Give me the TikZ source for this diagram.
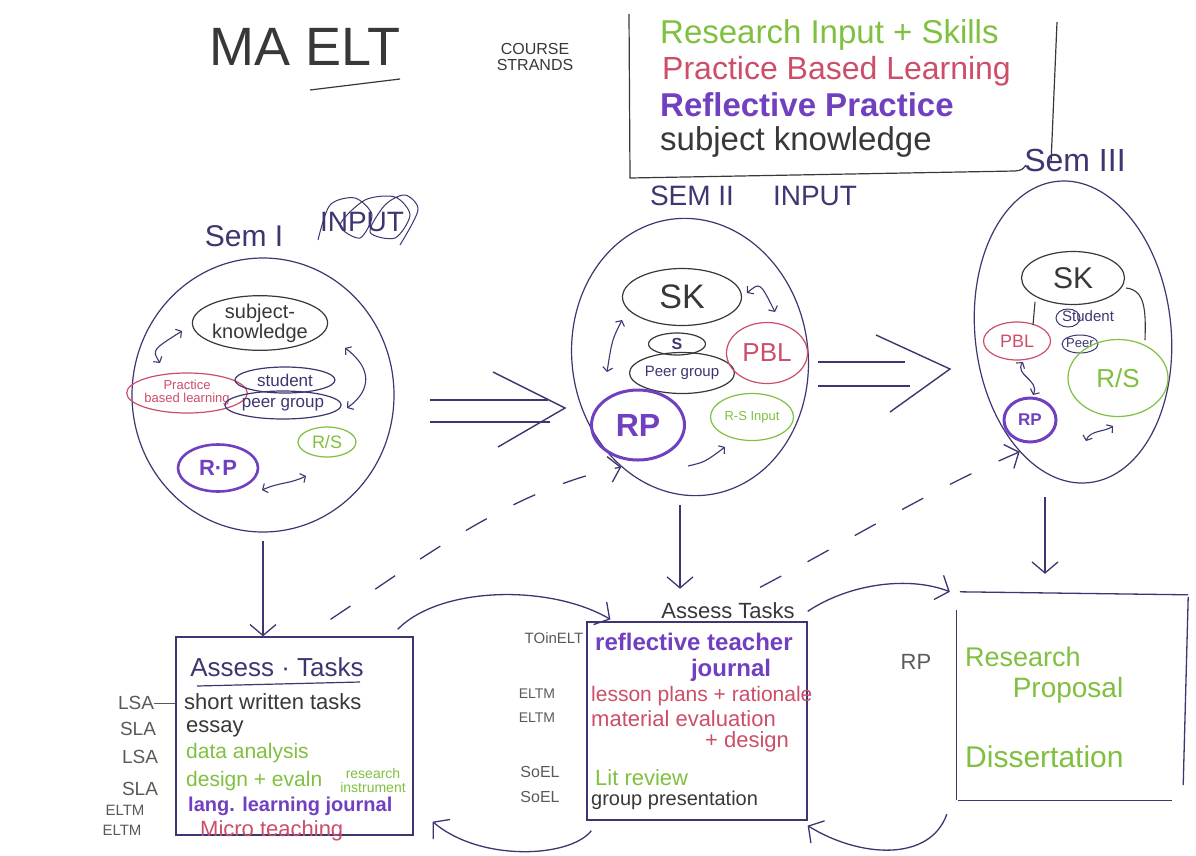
\documentclass[tikz,border=0pt]{standalone}
\usepackage{fontspec}
\setmainfont{Liberation Sans}
\usetikzlibrary{shapes.geometric,arrows.meta}
\definecolor{navy}{HTML}{3D3670}
\definecolor{pen}{HTML}{383838}
\definecolor{grn}{HTML}{80C040}
\definecolor{pnk}{HTML}{CC4E68}
\definecolor{prp}{HTML}{7040C0}
\definecolor{gry}{HTML}{5A5A5A}
\newcommand\fsz[1]{\fontsize{#1}{#1}\selectfont}

\begin{document}
\begin{tikzpicture}[x=1pt,y=-1pt,
  ov/.style={ellipse,inner sep=0pt,line width=1.2pt},
  lb/.style={inner sep=0pt},
  rowtxt/.style={inner sep=0pt,anchor=west},
  wire/.style={draw=navy,line width=1.3pt},
  headed/.style={-{Straight Barb[length=11pt,width=26pt]}},
  bihead/.style={{Straight Barb[length=4pt,width=10pt]}-{Straight Barb[length=4pt,width=10pt]}},
  onehead/.style={-{Straight Barb[length=4pt,width=10pt]}},
]
\fill[white] (0,0) rectangle (1196,855);
\useasboundingbox (0,0) rectangle (1196,855);

% ---------- title and course strands ----------
\node[lb,text=pen,font=\fsz{54}] (title) at (305,47) {MA ELT};
\draw[pen,line width=1.2pt] (310,90) -- (400,79);
\node[lb,text=pen,font=\fsz{16},align=center] (strands) at (535,57) {COURSE\\STRANDS};

\draw[pen,line width=1.2pt] (629,14) -- (630,178) -- (1015,171) .. controls (1022,170) .. (1026,165);
\draw[pen,line width=1.2pt] (1057,22) -- (1051,163);
\node[rowtxt,text=grn,font=\fsz{33}] (k1) at (660,35) {Research Input + Skills};
\node[rowtxt,text=pnk,font=\fsz{32}] (k2) at (662,71) {Practice Based Learning};
\node[rowtxt,text=prp,font=\bfseries\fsz{33}] (k3) at (660,105) {Reflective Practice};
\node[rowtxt,text=pen,font=\fsz{33}] (k4) at (660,142) {subject knowledge};

% ---------- semester labels ----------
\node[lb,text=navy,font=\fsz{30}] (sem1) at (244,236) {Sem I};
\node[lb,text=navy,font=\fsz{28}] (inp1) at (362,222) {INPUT};
\draw[navy,line width=1pt] plot[smooth] coordinates {(318,240) (330,205) (355,198) (372,215) (360,238) (340,225) (365,200) (395,197) (410,215) (395,238) (370,232) (385,205) (405,195) (418,210) (400,245)};
\node[lb,text=navy,font=\fsz{28}] (sem2) at (692,196) {SEM II};
\node[lb,text=navy,font=\fsz{28}] (inp2) at (815,196) {INPUT};
\node[lb,text=navy,font=\fsz{32}] (sem3) at (1075,160) {Sem III};

% ---------- semester I ----------
\node[ov,draw=navy,minimum width=262pt,minimum height=274pt] (s1) at (263,395) {};
\node[ov,draw=pen,minimum width=135pt,minimum height=54pt,align=center,font=\fsz{20},text=pen] (sk1) at (260,323) {subject-\\knowledge};
\node[ov,draw=pnk,minimum width=88pt,minimum height=40pt,align=center,font=\fsz{13},text=pnk] (pbl1) at (187,393) {Practice\\based learning};
\node[ov,draw=navy,minimum width=100pt,minimum height=26pt,font=\fsz{17},text=navy] (st1) at (285,380) {student};
\node[ov,draw=navy,minimum width=100pt,minimum height=28pt,font=\fsz{17},text=navy] (pg1) at (283,405) {peer group};
\node[ov,draw=grn,minimum width=58pt,minimum height=30pt,font=\fsz{18},text=grn] (rs1) at (327,442) {R/S};
\node[ov,draw=prp,line width=2.6pt,minimum width=80pt,minimum height=47pt,font=\bfseries\fsz{22},text=prp] (rp1) at (218,468) {R·P};
\coordinate (a1a) at (160,363); \coordinate (a1b) at (182,331);
\coordinate (a2a) at (345,348); \coordinate (a2b) at (347,408);
\coordinate (a3a) at (262,490); \coordinate (a3b) at (306,476);
\draw[navy,line width=1.1pt,bihead] (a1a) .. controls (152,350) .. (a1b);
\draw[navy,line width=1.1pt,bihead] (a2a) .. controls (372,368) and (372,390) .. (a2b);
\draw[navy,line width=1.1pt,bihead] (a3a) .. controls (280,482) and (290,484) .. (a3b);

% ---------- semester II ----------
\node[ov,draw=navy,minimum width=236pt,minimum height=278pt,rotate=8] (s2) at (690,357) {};
\node[ov,draw=pen,minimum width=119pt,minimum height=57pt,font=\fsz{34},text=pen] (sk2) at (682,297) {SK};
\node[ov,draw=pen,minimum width=57pt,minimum height=22pt,font=\bfseries\fsz{16},text=navy] (ss2) at (677,344) {S};
\node[ov,draw=pen,minimum width=90pt,minimum height=41pt,font=\fsz{15},text=navy] (pg2) at (682,373) {Peer group};
\node[ov,draw=pnk,minimum width=81pt,minimum height=61pt,font=\fsz{26},text=pnk] (pbl2) at (767,353) {PBL};
\node[ov,draw=prp,line width=3pt,minimum width=93pt,minimum height=70pt,font=\bfseries\fsz{32},text=prp] (rp2) at (638,425) {RP};
\node[ov,draw=grn,minimum width=83pt,minimum height=47pt,font=\fsz{13},text=grn] (ri2) at (752,417) {R-S Input};
\coordinate (b1a) at (747,293); \coordinate (b1b) at (775,312);
\coordinate (b2a) at (622,320); \coordinate (b2b) at (607,372);
\coordinate (b3a) at (688,466); \coordinate (b3b) at (725,447);
\draw[navy,line width=1.1pt,bihead] (b1a) .. controls (760,282) .. (b1b);
\draw[navy,line width=1.1pt,bihead] (b2a) .. controls (612,340) .. (b2b);
\draw[navy,line width=1.1pt,onehead] (b3a) .. controls (705,462) .. (b3b);

% ---------- semester III ----------
\node[ov,draw=navy,minimum width=196pt,minimum height=303pt,rotate=6] (s3) at (1073,332) {};
\node[ov,draw=pen,minimum width=103pt,minimum height=53pt,font=\fsz{30},text=pen] (sk3) at (1073,278) {SK};
\node[ov,draw=pnk,minimum width=67pt,minimum height=38pt,font=\fsz{18},text=pnk] (pbl3) at (1017,341) {PBL};
\node[rowtxt,text=navy,font=\fsz{15}] (st3) at (1062,316) {Student};
\node[ov,draw=navy,line width=1pt,minimum width=24pt,minimum height=18pt] (sr3) at (1068,318) {};
\node[rowtxt,text=navy,font=\fsz{13}] (pe3) at (1066,343) {Peer};
\node[ov,draw=navy,line width=1pt,minimum width=36pt,minimum height=18pt] (pr3) at (1080,344) {};
\node[ov,draw=grn,minimum width=100pt,minimum height=77pt,font=\fsz{26},text=grn] (rs3) at (1118,378) {R/S};
\node[ov,draw=prp,line width=3pt,minimum width=52pt,minimum height=44pt,font=\bfseries\fsz{17},text=prp] (rp3) at (1030,420) {RP};
\draw[pen,line width=1.1pt] (1035,302) -- (1033,325);
\draw[pen,line width=1.1pt] (1126,288) .. controls (1145,290) and (1146,310) .. (1145,340);
\coordinate (c1a) at (1023,362); \coordinate (c1b) at (1033,395);
\coordinate (c2a) at (1086,441); \coordinate (c2b) at (1113,426);
\draw[navy,line width=1.1pt,bihead] (c1a) .. controls (1014,375) and (1040,380) .. (c1b);
\draw[navy,line width=1.1pt,bihead] (c2a) .. controls (1090,430) and (1105,432) .. (c2b);

% ---------- broad arrows between semesters ----------
\draw[navy,line width=1.4pt] (430,400) -- (548,400);
\draw[navy,line width=1.4pt] (430,422) -- (550,422);
\draw[navy,line width=1.4pt] (493,372) -- (565,408) -- (498,447);
\draw[navy,line width=1.4pt] (818,362) -- (905,362);
\draw[navy,line width=1.4pt] (818,386) -- (910,386);
\draw[navy,line width=1.4pt] (876,335) -- (950,369) -- (890,412);

% ---------- assessment boxes ----------
\node[draw=navy,line width=1.3pt,minimum width=237pt,minimum height=198pt] (b1) at (294.5,736) {};
\node[draw=navy,line width=1.3pt,minimum width=220pt,minimum height=198pt] (b2) at (697,721) {};
\node[minimum width=231pt,minimum height=208pt] (b3) at (1072.5,696) {};
\draw[wire] ([xshift=3pt]b3.north west) -- ([yshift=-3pt]b3.north east);
\draw[wire] ([yshift=-18pt]b3.north west) -- (b3.south west);
\draw[wire] ([yshift=-5pt]b3.north east) -- ([xshift=-5pt,yshift=15pt]b3.south east);
\draw[wire] ([xshift=1pt]b3.south west) -- ([xshift=-16pt]b3.south east);

% box 1
\node[lb,text=navy,font=\fsz{26}] (at1) at (277,667) {Assess · Tasks};
\draw[navy,line width=1.2pt] (197,686) -- (360,682);
\node[rowtxt,text=pen,font=\fsz{22}] (r11) at (184,702) {short written tasks};
\node[rowtxt,text=pen,font=\fsz{22}] (r12) at (186,729) {essay};
\node[rowtxt,text=grn,font=\fsz{21}] (r13) at (186,753) {data analysis};
\node[rowtxt,text=grn,font=\fsz{21}] (r14) at (186,781) {design + evaln};
\node[lb,text=grn,font=\fsz{14},align=center] (r14b) at (373,780) {research\\instrument};
\node[rowtxt,text=prp,font=\bfseries\fsz{20}] (r15) at (188,806) {lang. learning journal};
\node[rowtxt,text=pnk,font=\fsz{22}] (r16) at (200,831) {Micro teaching};
\node[lb,text=gry,font=\fsz{19}] (m11) at (136,703) {LSA};
\node[lb,text=gry,font=\fsz{19}] (m12) at (138,729) {SLA};
\node[lb,text=gry,font=\fsz{19}] (m13) at (140,757) {LSA};
\node[lb,text=gry,font=\fsz{19}] (m14) at (140,789) {SLA};
\node[lb,text=gry,font=\fsz{15}] (m15) at (125,810) {ELTM};
\node[lb,text=gry,font=\fsz{15}] (m16) at (122,830) {ELTM};
\draw[gry,line width=1pt] (m11.east) -- (m11.east -| b1.west);

% box 2
\node[lb,text=pen,font=\fsz{22}] (at2) at (728,611) {Assess Tasks};
\node[rowtxt,text=prp,font=\bfseries\fsz{24}] (r21) at (595,642) {reflective teacher};
\node[lb,text=prp,font=\bfseries\fsz{24}] (r21b) at (731,670) {journal};
\node[rowtxt,text=pnk,font=\fsz{21}] (r22) at (591,696) {lesson plans + rationale};
\node[rowtxt,text=pnk,font=\fsz{22}] (r23) at (591,719) {material evaluation};
\node[lb,text=pnk,font=\fsz{22}] (r23b) at (747,742) {+ design};
\node[rowtxt,text=grn,font=\fsz{22}] (r24) at (595,778) {Lit review};
\node[rowtxt,text=pen,font=\fsz{20}] (r25) at (591,800) {group presentation};
\node[lb,text=gry,font=\fsz{15}] (m21) at (554,638) {TOinELT};
\node[lb,text=gry,font=\fsz{14}] (m22) at (537,694) {ELTM};
\node[lb,text=gry,font=\fsz{14}] (m23) at (537,718) {ELTM};
\node[lb,text=gry,font=\fsz{16}] (m24) at (540,772) {SoEL};
\node[lb,text=gry,font=\fsz{16}] (m25) at (540,797) {SoEL};

% box 3
\node[lb,text=gry,font=\fsz{22}] (m31) at (916,662) {RP};
\node[rowtxt,text=grn,font=\fsz{27}] (r31) at (965,657) {Research};
\node[lb,text=grn,font=\fsz{28}] (r32) at (1068,690) {Proposal};
\node[rowtxt,text=grn,font=\fsz{30}] (r33) at (965,757) {Dissertation};

% ---------- semester to assessment ----------
\coordinate (s2foot) at (680,505);
\coordinate (s3foot) at (1045,497);
\draw[wire,headed] ([yshift=-8pt]s1.south) -- (s1.south |- b1.north);
\draw[wire,headed] (s2foot) -- ([yshift=14pt]s2foot |- at2.north);
\draw[wire,headed] (s3foot) -- ([yshift=18pt]s3foot |- b3.north);

% ---------- links between assessment boxes ----------
\draw[wire,headed] ([xshift=-16pt,yshift=7pt]b1.north east) .. controls (440,586) and (550,584) .. ([xshift=24pt,yshift=2pt]b2.north west);
\draw[wire,headed] ([yshift=10pt]b2.north east) .. controls (850,583) and (910,576) .. ([xshift=-7pt]b3.north west);
\draw[wire,headed] ([xshift=-10pt,yshift=-14pt]b3.south west) .. controls (930,862) and (860,858) .. ([yshift=-5pt]b2.south east);
\draw[wire,headed] ([xshift=5pt,yshift=-10pt]b2.south west) .. controls (570,858) and (480,862) .. ([xshift=19pt,yshift=14pt]b1.south east);

% ---------- dashed links back into the next semester ----------
\draw[wire,dash pattern=on 24pt off 30pt,headed] ([xshift=36pt,yshift=17pt]b1.north) .. controls (420,560) and (510,490) .. (s2.230);
\draw[wire,dash pattern=on 24pt off 30pt,headed] ([xshift=63pt,yshift=34pt]b2.north) .. controls (850,540) and (930,490) .. (s3.240);

\end{tikzpicture}
\end{document}
